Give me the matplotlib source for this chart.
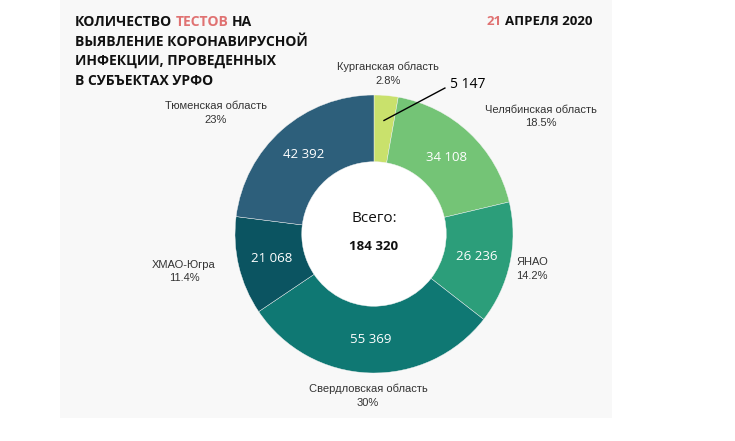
import numpy as np
import matplotlib
matplotlib.use("Agg")
import matplotlib.pyplot as plt
from matplotlib.patches import Rectangle

############################################
# DATOS
regions = ['Курганская область', 'Челябинская область', 'ЯНАО',
           'Свердловская область', 'ХМАО-Югра', 'Тюменская область']
tests = [5147, 34108, 26236, 55369, 21068, 42392]
colors = ['#c9e16c', '#74c476', '#2c9e7a', '#0f7873', '#0b5461', '#2d5f7b']
total_label = 'Всего:'
title_lines = [[('КОЛИЧЕСТВО', '#111111'), ('ТЕСТОВ', '#e07272'), ('НА', '#111111')],
               [('ВЫЯВЛЕНИЕ КОРОНАВИРУСНОЙ', '#111111')],
               [('ИНФЕКЦИИ, ПРОВЕДЕННЫХ', '#111111')],
               [('В СУБЪЕКТАХ УРФО', '#111111')]]
date_day = '21'
date_rest = 'АПРЕЛЯ 2020'

# posiciones de las etiquetas externas (pixeles)
outer_pos = [(388, 73.5), (541, 116.5), (532, 269), (368, 396), (184, 271.5), (216, 113)]

def fmt(v):
    return f"{v:,}".replace(",", " ")

def fmt_pct(p):
    s = f"{p:.1f}"
    if s.endswith(".0"):
        s = s[:-2]
    return s + "%"

total = sum(tests)
pcts = [fmt_pct(v / total * 100) for v in tests]

W, H = 735, 441
fig = plt.figure(figsize=(W / 100, H / 100), dpi=100)
fig.patch.set_facecolor('white')

# fondo en pixeles
bg = fig.add_axes([0, 0, 1, 1])
bg.set_xlim(0, W)
bg.set_ylim(H, 0)
bg.axis('off')
bg.add_patch(Rectangle((60, 0), 552, 418, facecolor='#f8f8f8', edgecolor='none'))

############################################
# DONA
cx, cy, R = 374, 234, 139
pax = fig.add_axes([(cx - R) / W, (H - cy - R) / H, 2 * R / W, 2 * R / H])
wedges, _ = pax.pie(tests, colors=colors, startangle=90, counterclock=False, radius=1,
                    wedgeprops=dict(width=0.48, edgecolor='#f4f4f4', linewidth=0.3))
pax.add_patch(plt.Circle((0, 0), 0.52, color='white', zorder=0))
pax.set_xlim(-1, 1)
pax.set_ylim(-1, 1)
pax.axis('off')

for i, w in enumerate(wedges):
    ang = np.deg2rad((w.theta1 + w.theta2) / 2)
    if i == 0:
        # Kurgan: valor fuera con linea
        x0, y0 = 0.82 * np.cos(ang), 0.82 * np.sin(ang)
        pax.plot([x0, 0.51], [y0, 1.05], color='black', lw=1, clip_on=False)
        pax.text(0.545, 1.075, fmt(tests[i]), ha='left', va='center', fontsize=10,
                 family='Open Sans', color='black', clip_on=False)
    else:
        pax.text(0.76 * np.cos(ang), 0.76 * np.sin(ang), fmt(tests[i]), ha='center',
                 va='center', fontsize=9.5, family='Open Sans', color='white')

pax.text(0, 0.11, total_label, ha='center', va='center', fontsize=11, family='Open Sans',
         color='#111111')
pax.text(0, -0.09, fmt(total), ha='center', va='center', fontsize=9.5, family='Open Sans',
         fontweight='bold', color='#111111')

# etiquetas externas
for (x, y), name, p in zip(outer_pos, regions, pcts):
    bg.text(x, y, f"{name}\n{p}", ha='center', va='center', fontsize=8,
            family='Liberation Sans', color='#333333', linespacing=1.45)

############################################
# TITULO
r = fig.canvas.get_renderer()
tkw = dict(fontsize=10, family='Open Sans', fontweight='bold', va='baseline')

def text_w(s, **kw):
    t = bg.text(0, 0, s, **kw)
    w = t.get_window_extent(r).width
    t.remove()
    return w

space = text_w('И И', **tkw) - text_w('ИИ', **tkw)
for line, yb in zip(title_lines, [26, 45.5, 65, 85]):
    x = 75
    for s, c in line:
        t = bg.text(x, yb, s, color=c, ha='left', **tkw)
        x += t.get_window_extent(r).width + space

dkw = dict(fontsize=9.5, family='Open Sans', fontweight='bold', va='baseline')
t = bg.text(593, 25, date_rest, ha='right', color='#111111', **dkw)
dw = t.get_window_extent(r).width
bg.text(593 - dw - text_w('И И', **dkw) + text_w('ИИ', **dkw), 25, date_day, ha='right',
        color='#e07272', **dkw)

fig.savefig('out.png', dpi=100, facecolor='white')
